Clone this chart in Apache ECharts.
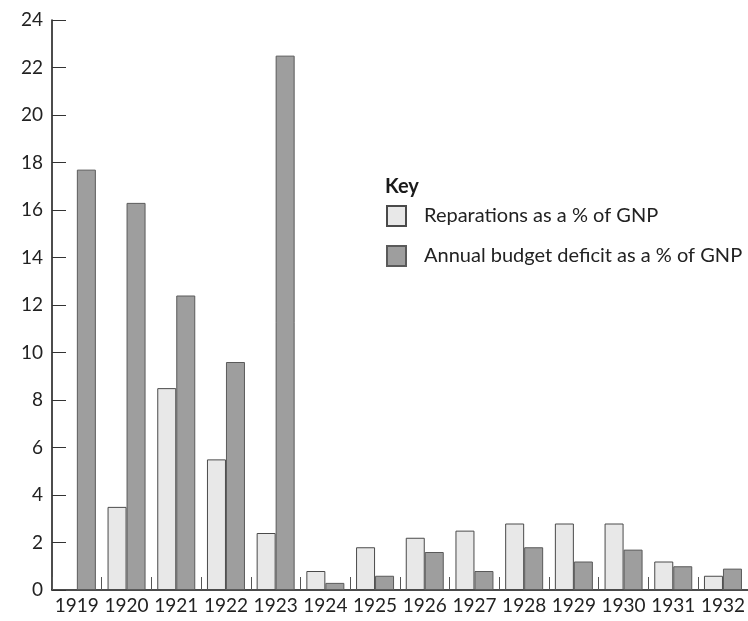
<!DOCTYPE html>
<html>
<head>
<meta charset="utf-8">
<script src="https://cdn.jsdelivr.net/npm/echarts@6/dist/echarts.min.js"></script>
<style>
html,body{margin:0;padding:0;background:#fff;}
#c{width:748px;height:621px;}
</style>
</head>
<body>
<div id="c"></div>
<script>
const years = ['1919','1920','1921','1922','1923','1924','1925','1926','1927','1928','1929','1930','1931','1932'];
const reparations = [null, 3.5, 8.5, 5.5, 2.4, 0.8, 1.8, 2.2, 2.5, 2.8, 2.8, 2.8, 1.2, 0.6];
const deficit = [17.7, 16.3, 12.4, 9.6, 22.5, 0.3, 0.6, 1.6, 0.8, 1.8, 1.2, 1.7, 1.0, 0.9];
const yTicks = [0, 2, 4, 6, 8, 10, 12, 14, 16, 18, 20, 22, 24];
const seriesNames = ['Reparations as a % of GNP', 'Annual budget deficit as a % of GNP'];
const keyTitle = 'Key';

const FONT = 'Lato, "Open Sans", sans-serif';
const chart = echarts.init(document.getElementById('c'), null, {renderer: 'canvas'});
chart.setOption({
  animation: false,
  backgroundColor: '#ffffff',
  textStyle: {fontFamily: FONT},
  title: {
    text: keyTitle,
    left: 380, top: 172,
    textStyle: {fontFamily: FONT, fontSize: 20, fontWeight: 'bold', color: '#1a1a1a'}
  },
  legend: {
    orient: 'vertical',
    left: 381, top: 200,
    itemWidth: 19, itemHeight: 20,
    itemGap: 18,
    icon: 'rect',
    data: seriesNames,
    textStyle: {fontFamily: FONT, fontSize: 20, color: '#222', padding: [0, 0, 0, 13]}
  },
  grid: {left: 52, right: 0, top: 20, bottom: 31, containLabel: false},
  xAxis: {
    type: 'category',
    data: years,
    boundaryGap: true,
    axisLine: {lineStyle: {color: '#111', width: 1.5}},
    axisTick: {show: true, inside: true, length: 13, lineStyle: {color: '#555', width: 1}},
    axisLabel: {fontFamily: FONT, fontSize: 19, color: '#222', margin: 6, interval: 0}
  },
  yAxis: {
    type: 'value',
    min: 0, max: 24, interval: 2,
    axisLine: {show: true, lineStyle: {color: '#111', width: 1.5}},
    axisTick: {show: true, inside: true, length: 14, lineStyle: {color: '#333', width: 1}},
    splitLine: {show: false},
    axisLabel: {
      fontFamily: FONT, fontSize: 19, color: '#222', margin: 9,
      formatter: function (v) { return yTicks.indexOf(v) >= 0 ? String(v) : ''; }
    }
  },
  series: [
    {
      name: seriesNames[0], type: 'bar', data: reparations,
      barWidth: 19, barGap: '0%',
      itemStyle: {color: '#e8e8e8', borderColor: '#4a4a4a', borderWidth: 1}
    },
    {
      name: seriesNames[1], type: 'bar', data: deficit,
      barWidth: 19, barGap: '0%',
      itemStyle: {color: '#9e9e9e', borderColor: '#5a5a5a', borderWidth: 1}
    }
  ]
});
</script>
</body>
</html>
